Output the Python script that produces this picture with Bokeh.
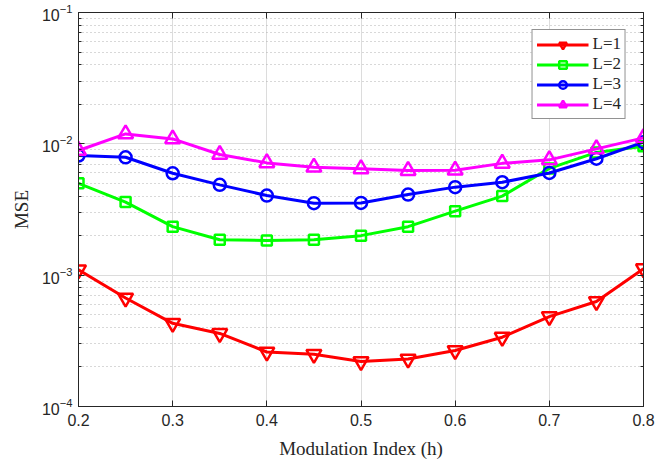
from bokeh.plotting import figure
from bokeh.models import FixedTicker, Legend, LegendItem, LogAxis, LinearAxis, CustomJSTickFormatter
from bokeh.embed import file_html
from bokeh.resources import INLINE

h = [0.2, 0.25, 0.3, 0.35, 0.4, 0.45, 0.5, 0.55, 0.6, 0.65, 0.7, 0.75, 0.8]
mse_L1 = [1.1e-3, 6.7e-4, 4.3e-4, 3.6e-4, 2.6e-4, 2.5e-4, 2.2e-4, 2.3e-4, 2.67e-4, 3.37e-4, 4.84e-4, 6.3e-4, 1.12e-3]
mse_L2 = [5.0e-3, 3.6e-3, 2.34e-3, 1.86e-3, 1.84e-3, 1.86e-3, 2.0e-3, 2.34e-3, 3.07e-3, 4.0e-3, 6.5e-3, 8.6e-3, 9.6e-3]
mse_L3 = [8.15e-3, 7.9e-3, 5.97e-3, 4.87e-3, 4.04e-3, 3.53e-3, 3.55e-3, 4.11e-3, 4.68e-3, 5.1e-3, 6.0e-3, 7.7e-3, 1.03e-2]
mse_L4 = [8.9e-3, 1.19e-2, 1.09e-2, 8.3e-3, 7.16e-3, 6.63e-3, 6.45e-3, 6.26e-3, 6.3e-3, 7.1e-3, 7.55e-3, 9.16e-3, 1.11e-2]
labels = ["L=1", "L=2", "L=3", "L=4"]
colors = ["#FF0000", "#00FF00", "#0000FF", "#FF00FF"]
markers = ["inverted_triangle", "square", "circle", "triangle"]
msizes = [15, 10, 12, 15]

x_ticks = [0.2, 0.3, 0.4, 0.5, 0.6, 0.7, 0.8]
y_ticks = [1e-4, 1e-3, 1e-2, 1e-1]
y_minor = [m * 10.0 ** e for e in (-4, -3, -2) for m in range(2, 10)]

AX = "#262626"
p = figure(width=670, height=462, x_range=(0.2, 0.8), y_range=(1e-4, 1e-1),
           y_axis_type="log", output_backend="svg", toolbar_location=None,
           min_border_left=78, min_border_right=27, min_border_top=12, min_border_bottom=56)
p.background_fill_color = "white"
p.border_fill_color = "white"
p.outline_line_color = AX
p.outline_line_width = 1

xt = FixedTicker(ticks=x_ticks, minor_ticks=[])
yt = FixedTicker(ticks=y_ticks, minor_ticks=y_minor)
p.xaxis.ticker = xt
p.yaxis.ticker = yt
p.xgrid.ticker = xt
p.ygrid.ticker = yt

for ax in (p.xaxis[0], p.yaxis[0]):
    ax.axis_line_color = AX
    ax.major_tick_in = 6
    ax.major_tick_out = 0
    ax.minor_tick_in = 3
    ax.minor_tick_out = 0
    ax.major_tick_line_color = AX
    ax.minor_tick_line_color = AX
    ax.major_label_text_font = "Liberation Sans"
    ax.major_label_text_font_size = "16px"
    ax.major_label_text_color = AX
    ax.axis_label_text_font = "Liberation Serif"
    ax.axis_label_text_font_style = "normal"
    ax.axis_label_text_font_size = "19px"
    ax.axis_label_text_color = AX

p.xaxis.axis_label = "Modulation Index (h)"
p.yaxis.axis_label = "MSE"
p.xaxis.major_label_standoff = 7
p.xaxis.axis_label_standoff = 9
p.yaxis.major_label_standoff = 6
p.yaxis.axis_label_standoff = 7

blank = CustomJSTickFormatter(code="return ''")
for ax, side in ((LogAxis(ticker=yt, formatter=blank), "right"),
                 (LinearAxis(ticker=xt, formatter=blank), "above")):
    ax.axis_line_color = AX
    ax.major_tick_in = 6
    ax.major_tick_out = 0
    ax.minor_tick_in = 3
    ax.minor_tick_out = 0
    ax.major_tick_line_color = AX
    ax.minor_tick_line_color = AX
    ax.major_label_text_font_size = "2px"
    ax.major_label_standoff = 0
    p.add_layout(ax, side)

p.xgrid.grid_line_color = "#dcdcdc"
p.ygrid.grid_line_color = "#dcdcdc"
p.ygrid.minor_grid_line_color = "#b0b0b0"
p.ygrid.minor_grid_line_dash = "1 3"

series = [mse_L1, mse_L2, mse_L3, mse_L4]
items = []
for lab, col, mk, ms, ys in zip(labels, colors, markers, msizes, series):
    ln = p.line(h, ys, line_color=col, line_width=3)
    sc = p.scatter(h, ys, marker=mk, size=ms, line_color=col, line_width=2.5,
                   fill_color="white", fill_alpha=0)
    items.append(LegendItem(label=lab, renderers=[ln, sc]))

legend = Legend(items=items, location="top_right")
legend.margin = 17
legend.padding = 4
legend.spacing = 0
legend.glyph_width = 52
legend.glyph_height = 19
legend.label_height = 19
legend.label_standoff = 4
legend.label_text_font = "Liberation Serif"
legend.label_text_font_size = "17px"
legend.label_text_color = AX
legend.border_line_color = AX
legend.border_line_width = 1
legend.background_fill_color = "white"
legend.background_fill_alpha = 1
p.add_layout(legend)

open("out.html", "w").write(file_html(p, INLINE))
